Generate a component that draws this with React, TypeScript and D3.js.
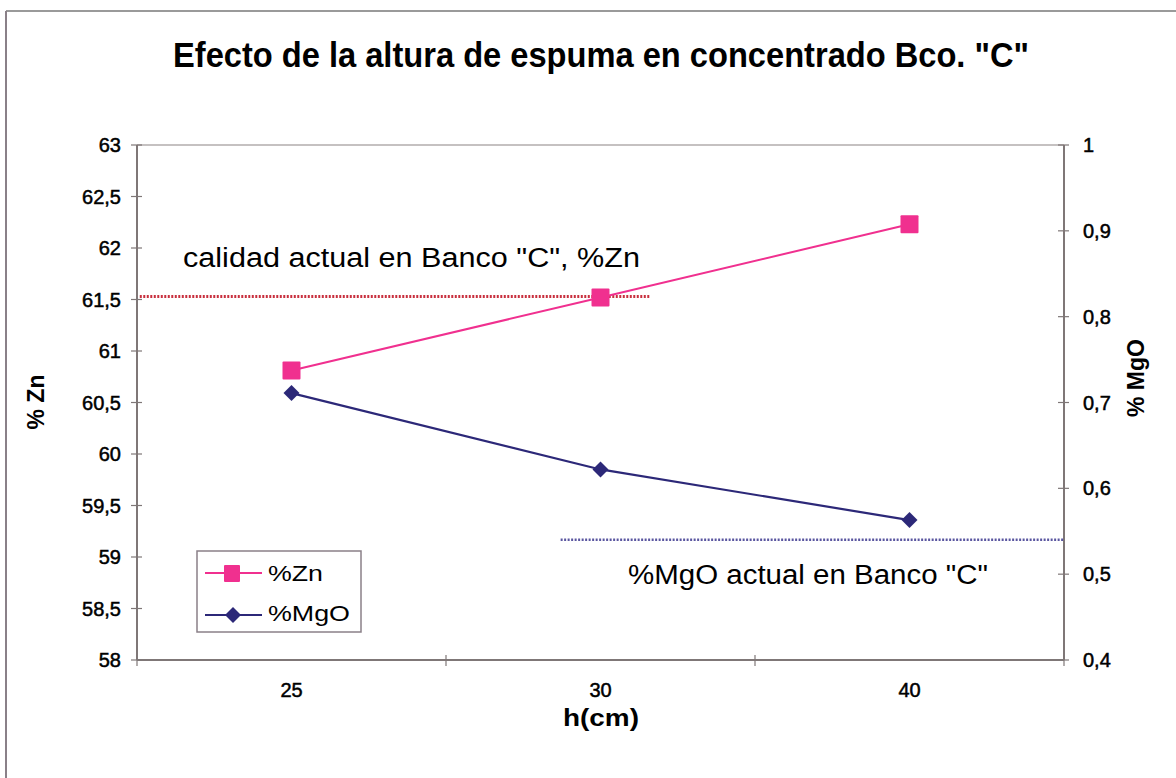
import React from "react";
import * as d3 from "d3";

const categories = ["25", "30", "40"];
const znValues = [60.81, 61.52, 62.23];
const mgoValues = [0.711, 0.622, 0.563];
const znTicks = [58, 58.5, 59, 59.5, 60, 60.5, 61, 61.5, 62, 62.5, 63];
const mgoTicks = [0.4, 0.5, 0.6, 0.7, 0.8, 0.9, 1];
const znReference = 61.53;
const mgoReference = 0.54;
const znRefSpan = [0.003, 0.553];
const mgoRefSpan = [0.457, 1];

const W = 1176, H = 778;
const L = 137, R = 1064, T = 145, B = 660;
const fmt = (v: number) => String(v).replace(".", ",");
const PINK = "#f0308f";
const NAVY = "#2c2878";
const AXIS = "#7f7777";
const FONT = "'Liberation Sans', Arial, sans-serif";

export default function App() {
  const x = d3.scaleBand<string>().domain(categories).range([L, R]).padding(0);
  const yL = d3.scaleLinear().domain([58, 63]).range([B, T]);
  const yR = d3.scaleLinear().domain([0.4, 1]).range([B, T]);
  const cx = (c: string) => (x(c) as number) + x.bandwidth() / 2;
  const znLine = d3.line<number>().x((_, i) => cx(categories[i])).y((d) => yL(d));
  const mgoLine = d3.line<number>().x((_, i) => cx(categories[i])).y((d) => yR(d));
  const xf = d3.scaleLinear().domain([0, 1]).range([L, R]);
  const bounds = [...categories.map((c) => x(c) as number), R];
  const tickStyle = { stroke: "#000", strokeWidth: 0.5 } as const;

  return (
    <svg width={W} height={H} style={{ position: "absolute", left: 0, top: 0, background: "#fff" }} fontFamily={FONT}>
      <line x1={6} y1={11} x2={W} y2={11} stroke="#9a9a9a" strokeWidth={2} />
      <line x1={6} y1={11} x2={6} y2={H} stroke="#8a8088" strokeWidth={2} />

      <text x={601} y={67} textAnchor="middle" fontSize={35} fontWeight="bold" textLength={856} lengthAdjust="spacingAndGlyphs">
        Efecto de la altura de espuma en concentrado Bco. "C"
      </text>

      {/* axes */}
      <line x1={L} y1={T} x2={L} y2={B} stroke={AXIS} strokeWidth={2} />
      <line x1={R} y1={T} x2={R} y2={B} stroke={AXIS} strokeWidth={2} />
      <line x1={L} y1={B} x2={R} y2={B} stroke={AXIS} strokeWidth={2} />
      <line x1={L} y1={T} x2={R} y2={T} stroke={AXIS} strokeWidth={1.5} opacity={0.6} />

      {znTicks.map((t) => (
        <g key={"zl" + t}>
          <line x1={L - 6} x2={L + 5} y1={yL(t)} y2={yL(t)} stroke={AXIS} strokeWidth={1.2} />
          <text x={121} y={yL(t)} dy="0.35em" textAnchor="end" fontSize={20} {...tickStyle}>{fmt(t)}</text>
        </g>
      ))}
      {mgoTicks.map((t) => (
        <g key={"mr" + t}>
          <line x1={R - 6} x2={R + 5} y1={yR(t)} y2={yR(t)} stroke={AXIS} strokeWidth={1.2} />
          <text x={1083} y={yR(t)} dy="0.35em" textAnchor="start" fontSize={20} {...tickStyle}>{fmt(+t.toFixed(1))}</text>
        </g>
      ))}
      {bounds.map((b, i) => (
        <line key={"xb" + i} x1={b} x2={b} y1={B - 5} y2={B + 6} stroke={AXIS} strokeWidth={1.2} />
      ))}
      {categories.map((c) => (
        <text key={"xc" + c} x={cx(c)} y={690} dy="0.35em" textAnchor="middle" fontSize={20} {...tickStyle}>{c}</text>
      ))}

      <text transform={`translate(36,402) rotate(-90)`} textAnchor="middle" dy="0.35em" fontSize={23} fontWeight="bold">% Zn</text>
      <text transform={`translate(1136,378) rotate(-90)`} textAnchor="middle" dy="0.35em" fontSize={23} fontWeight="bold">% MgO</text>
      <text x={601} y={718} textAnchor="middle" dy="0.35em" fontSize={23} fontWeight="bold" textLength={76} lengthAdjust="spacingAndGlyphs">h(cm)</text>

      {/* reference lines */}
      <line x1={xf(znRefSpan[0])} x2={xf(znRefSpan[1])} y1={yL(znReference)} y2={yL(znReference)} stroke="#c8303e" strokeWidth={3} strokeDasharray="2 1.5" />
      <line x1={xf(mgoRefSpan[0])} x2={xf(mgoRefSpan[1])} y1={yR(mgoReference)} y2={yR(mgoReference)} stroke="#5a56a0" strokeWidth={2.5} strokeDasharray="2 1.5" />
      <text x={183} y={258} dy="0.35em" fontSize={27} textLength={457} lengthAdjust="spacingAndGlyphs">calidad actual  en Banco "C", %Zn</text>
      <text x={628} y={575} dy="0.35em" fontSize={27} textLength={360} lengthAdjust="spacingAndGlyphs">%MgO actual en Banco "C"</text>

      {/* series */}
      <path d={znLine(znValues) as string} fill="none" stroke={PINK} strokeWidth={2} />
      <path d={mgoLine(mgoValues) as string} fill="none" stroke={NAVY} strokeWidth={2.2} />
      {znValues.map((v, i) => (
        <rect key={"zm" + i} x={cx(categories[i]) - 9} y={yL(v) - 9} width={18} height={18} fill={PINK} rx={1} />
      ))}
      {mgoValues.map((v, i) => {
        const px = cx(categories[i]), py = yR(v);
        return <path key={"mm" + i} d={`M${px},${py - 8}L${px + 8},${py}L${px},${py + 8}L${px - 8},${py}Z`} fill={NAVY} />;
      })}

      {/* legend */}
      <rect x={197} y={551} width={164} height={81} fill="#fff" stroke="#8a8088" strokeWidth={1.5} />
      <line x1={205} x2={262} y1={573} y2={573} stroke={PINK} strokeWidth={2} />
      <rect x={224} y={565} width={16} height={17} fill={PINK} rx={1} />
      <text x={268} y={573} dy="0.35em" fontSize={22} textLength={55} lengthAdjust="spacingAndGlyphs">%Zn</text>
      <line x1={205} x2={262} y1={615} y2={615} stroke={NAVY} strokeWidth={2} />
      <path d="M233,607L241,615L233,623L225,615Z" fill={NAVY} />
      <text x={268} y={613} dy="0.35em" fontSize={22} textLength={82} lengthAdjust="spacingAndGlyphs">%MgO</text>
    </svg>
  );
}
